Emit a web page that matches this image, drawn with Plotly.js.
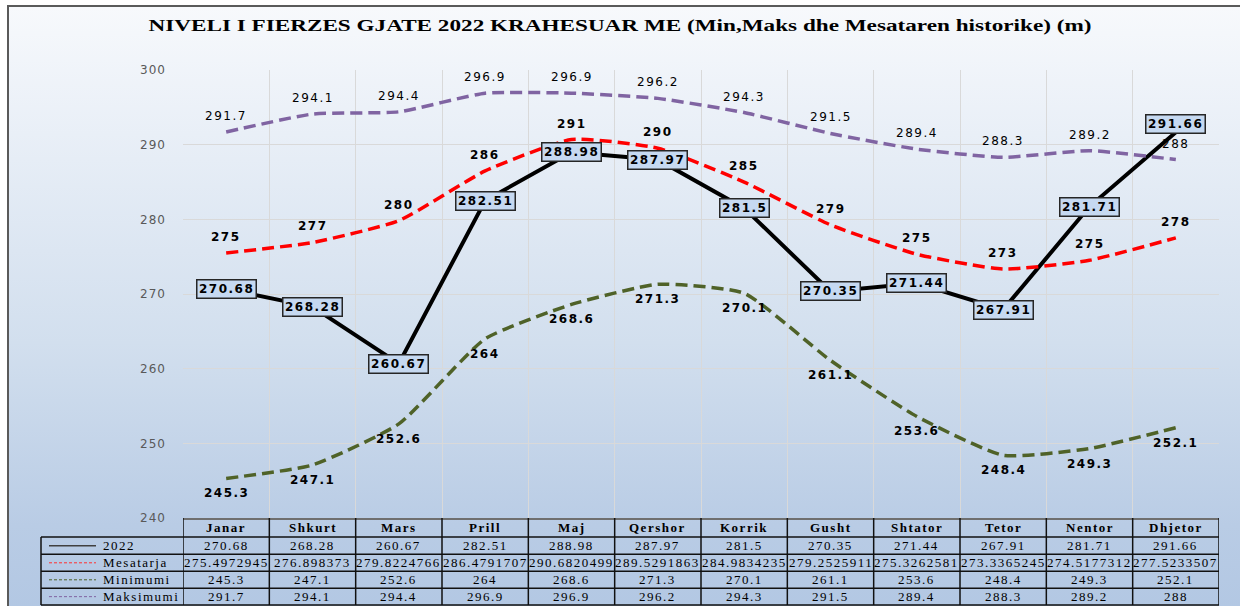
<!DOCTYPE html>
<html><head><meta charset="utf-8">
<script src="https://cdn.plot.ly/plotly-3.0.1.min.js"></script>
<style>
html,body{margin:0;padding:0;background:#fff;}
#wrap{position:relative;width:1240px;height:606px;overflow:hidden;}
#bg{position:absolute;left:7px;top:5px;width:1240px;height:610px;border-left:2px solid #5a5a5a;border-top:2px solid #5a5a5a;
background:linear-gradient(to bottom,#f7f9fc 0%,#e6edf6 25%,#d2dfee 55%,#b9cce5 85%,#b2c7e3 100%);}
#chart{position:absolute;left:0;top:0;width:1240px;height:606px;}
.annotation-text{letter-spacing:1.5px;}
.ytick text{letter-spacing:1px;}
.gtitle{transform-box:fill-box;transform-origin:50% 50%;transform:scaleX(1.45);}
</style></head>
<body><div id="wrap"><div id="bg"></div><div id="chart"></div></div>
<script>
const months = ['Janar','Shkurt','Mars','Prill','Maj','Qershor','Korrik','Gusht','Shtator','Tetor','Nentor','Dhjetor'];
const seriesNames = ['2022','Mesatarja','Minimumi','Maksimumi'];
const level2022 = [270.68,268.28,260.67,282.51,288.98,287.97,281.5,270.35,271.44,267.91,281.71,291.66];
const mesatarja = [275.4972945,276.898373,279.8224766,286.4791707,290.6820499,289.5291863,284.9834235,279.2525911,275.3262581,273.3365245,274.5177312,277.5233507];
const minimumi = [245.3,247.1,252.6,264,268.6,271.3,270.1,261.1,253.6,248.4,249.3,252.1];
const maksimumi = [291.7,294.1,294.4,296.9,296.9,296.2,294.3,291.5,289.4,288.3,289.2,288];
const titleText = 'NIVELI I FIERZES GJATE 2022 KRAHESUAR ME (Min,Maks dhe Mesataren historike) (m)';

const seriesData = [level2022, mesatarja, minimumi, maksimumi];
const colors = ['#000000','#ff0000','#4f6228','#8064a2'];
const sampleColors = ['#404040','#ff3030','#4f6228','#8064a2'];

const LBL = 'DejaVu Sans';
const SERIF = 'Liberation Serif';

// pixel helpers for table layout (plot area: x 183..1219, y 70..518)
const PL=183, PR=1219, PT=70, PB=518;
const px = p => (p-PL)/(PR-PL);
const py = p => (PB-p)/(PB-PT);

const traces = [
  {x:months, y:level2022, name:seriesNames[0], type:'scatter', mode:'lines', line:{color:colors[0], width:4}, hoverinfo:'skip'},
  {x:months, y:mesatarja, name:seriesNames[1], type:'scatter', mode:'lines', line:{color:colors[1], width:3.5, dash:'12px,6px', shape:'spline', smoothing:0.5}, hoverinfo:'skip'},
  {x:months, y:minimumi, name:seriesNames[2], type:'scatter', mode:'lines', line:{color:colors[2], width:3.5, dash:'12px,6px', shape:'spline', smoothing:0.5}, hoverinfo:'skip'},
  {x:months, y:maksimumi, name:seriesNames[3], type:'scatter', mode:'lines', line:{color:colors[3], width:3.5, dash:'12px,6px', shape:'spline', smoothing:0.5}, hoverinfo:'skip'}
];

const ann = [];
const shapes = [];
const last = months.length-1;

months.forEach((m,i)=>{
  ann.push({x:m, y:maksimumi[i], xref:'x', yref:'y', text:String(maksimumi[i]), showarrow:false, yshift:16,
    font:{family:LBL, size:12, color:'#000'}});
  ann.push({x:m, y:mesatarja[i], xref:'x', yref:'y', text:mesatarja[i].toFixed(0), showarrow:false, yshift:16,
    font:{family:LBL, size:12, color:'#000', weight:'bold'}});
  ann.push({x:m, y:minimumi[i], xref:'x', yref:'y', text:String(minimumi[i]), showarrow:false, yshift:-15,
    font:{family:LBL, size:12, color:'#000', weight:'bold'}});
  ann.push({x:m, y:level2022[i], xref:'x', yref:'y', text:String(level2022[i]), showarrow:false, yshift: i===last?8:0,
    font:{family:LBL, size:12, color:'#000', weight:'bold'}, bgcolor:'#c6d9f1', bordercolor:'#262626', borderwidth:1.5, borderpad:1.5});
});

// data table below the plot
const rowEdges = [518, 537, 554.3, 571.3, 588.3, 605];
const LEGL = 41;
const lineCol = '#111111';
months.forEach((m,i)=>{
  ann.push({x:m, xref:'x', y:py((rowEdges[0]+rowEdges[1])/2), yref:'paper', yanchor:'middle', text:m, showarrow:false,
    font:{family:SERIF, size:13, color:'#000', weight:'bold'}});
});
seriesData.forEach((arr,r)=>{
  const yc = py((rowEdges[r+1]+rowEdges[r+2])/2);
  arr.forEach((v,i)=>{
    ann.push({x:months[i], xref:'x', y:yc, yref:'paper', yanchor:'middle', text:String(v), showarrow:false,
      font:{family:SERIF, size:13, color:'#000'}});
  });
  ann.push({x:px(101), xref:'paper', xanchor:'left', y:yc, yref:'paper', yanchor:'middle', text:seriesNames[r], showarrow:false,
    font:{family:SERIF, size:13, color:'#000'}});
  shapes.push({type:'line', xref:'paper', yref:'paper', x0:px(49), x1:px(96), y0:yc, y1:yc,
    line:{color:sampleColors[r], width: r===0?1.5:1, dash: r===0?'solid':'3px,2px'}});
});
for(let i=0;i<=months.length;i++){
  shapes.push({type:'line', xref:'x', yref:'paper', x0:i-0.5, x1:i-0.5, y0:py(rowEdges[0]), y1:py(rowEdges[5]), line:{color:lineCol, width:1.5}});
}
shapes.push({type:'line', xref:'paper', yref:'paper', x0:px(LEGL), x1:px(LEGL), y0:py(rowEdges[1]), y1:py(rowEdges[5]), line:{color:lineCol, width:1.5}});
for(let k=1;k<rowEdges.length;k++){
  shapes.push({type:'line', xref:'paper', yref:'paper', x0:px(LEGL), x1:1, y0:py(rowEdges[k]), y1:py(rowEdges[k]), line:{color:lineCol, width:1.5}});
}

const layout = {
  width:1240, height:606,
  margin:{l:PL, r:1240-PR, t:PT, b:606-PB, pad:0},
  paper_bgcolor:'rgba(0,0,0,0)', plot_bgcolor:'rgba(0,0,0,0)',
  showlegend:false,
  title:{text:titleText, font:{family:SERIF, size:16, color:'#000', weight:'bold'}, x:0.5, xref:'container', xanchor:'center', y:1-25/606, yref:'container', yanchor:'middle'},
  xaxis:{type:'category', range:[-0.5,11.5], tickson:'boundaries', showgrid:true, gridcolor:'#d9d9d9', gridwidth:1,
    showticklabels:false, ticks:'', showline:true, linecolor:'#6f6f6f', linewidth:2, zeroline:false, fixedrange:true},
  yaxis:{range:[240,300], tick0:240, dtick:10, showgrid:true, gridcolor:'#d9d9d9', gridwidth:1, zeroline:false, showline:false,
    ticks:'', tickfont:{family:LBL, size:12, color:'#595959'}, ticklabelstandoff:16, fixedrange:true},
  annotations: ann,
  shapes: shapes
};

Plotly.newPlot('chart', traces, layout, {staticPlot:true, displayModeBar:false});
</script>
</body></html>
